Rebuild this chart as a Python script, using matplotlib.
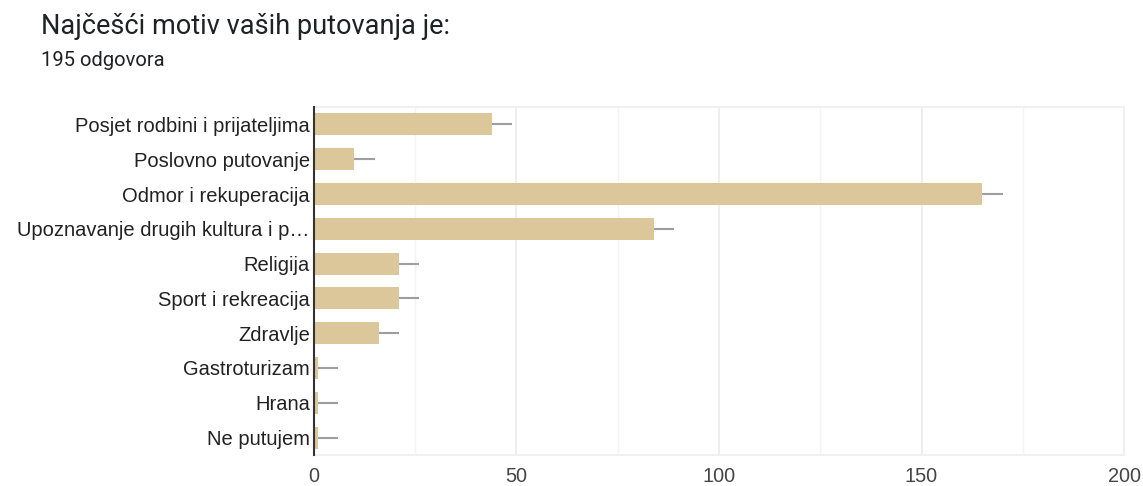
import matplotlib
matplotlib.use("Agg")
import matplotlib.pyplot as plt
from matplotlib.ticker import MultipleLocator

categories = [
    "Posjet rodbini i prijateljima",
    "Poslovno putovanje",
    "Odmor i rekuperacija",
    "Upoznavanje drugih kultura i p\u2026",
    "Religija",
    "Sport i rekreacija",
    "Zdravlje",
    "Gastroturizam",
    "Hrana",
    "Ne putujem",
]
counts = [44, 10, 165, 84, 21, 21, 16, 1, 1, 1]
err_plus = [5, 5, 5, 5, 5, 5, 5, 5, 5, 5]

title = "Naj\u010de\u0161\u0107i motiv va\u0161ih putovanja je:"
subtitle = "195 odgovora"

BAR = "#dbc79a"

fig = plt.figure(figsize=(11.43, 4.86), dpi=100)
ax = fig.add_axes([0.2747, 0.0638, 0.9834 - 0.2747, 0.7798 - 0.0638])

ypos = list(range(len(categories)))
ax.barh(ypos, counts, height=0.63, color=BAR, zorder=3)
ax.errorbar(counts, ypos, xerr=[[0] * len(counts), err_plus], fmt="none",
            ecolor="#9e9e9e", elinewidth=1.5, capsize=0, zorder=4)

ax.set_xlim(0, 200)
ax.set_ylim(len(categories) - 0.5, -0.5)
ax.set_yticks(ypos)
ax.set_yticklabels(categories, fontfamily="Liberation Sans", fontsize=14.5, color="#222222")
ax.xaxis.set_major_locator(MultipleLocator(50))
ax.xaxis.set_minor_locator(MultipleLocator(25))
ax.grid(True, which="major", axis="x", color="#ebebeb", linewidth=1.2, zorder=0)
ax.grid(True, which="minor", axis="x", color="#f4f4f4", linewidth=1.0, zorder=0)
ax.tick_params(axis="both", which="both", length=0)
ax.tick_params(axis="y", pad=3)
ax.tick_params(axis="x", pad=9)
for lbl in ax.get_xticklabels():
    lbl.set_fontfamily("Liberation Sans")
    lbl.set_fontsize(14.3)
    lbl.set_color("#444444")

for side in ("top", "right", "bottom"):
    ax.spines[side].set_color("#f0f0f0")
    ax.spines[side].set_linewidth(1.5)
ax.spines["left"].set_color("#333333")
ax.spines["left"].set_linewidth(1.5)
ax.spines["left"].set_zorder(5)

fig.text(41 / 1143, 1 - 27 / 486, title, fontfamily="Roboto", fontsize=19.5,
         color="#202124", va="center", ha="left")
fig.text(41 / 1143, 1 - 60 / 486, subtitle, fontfamily="Roboto", fontsize=14.5,
         color="#202124", va="center", ha="left")

fig.savefig("out.png", dpi=100, facecolor="white")
